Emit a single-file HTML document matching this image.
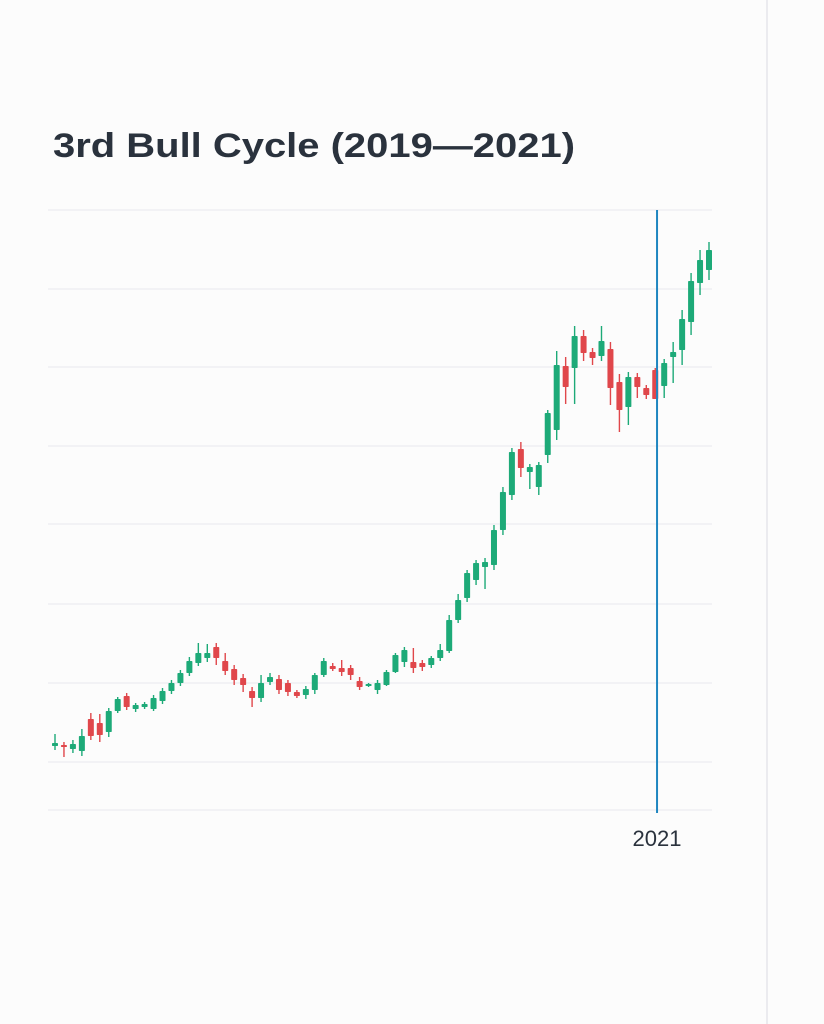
<!DOCTYPE html>
<html><head><meta charset="utf-8"><style>
html,body{margin:0;padding:0;background:#fcfcfc;}
svg{display:block;}
</style></head><body>
<svg width="824" height="1024" viewBox="0 0 824 1024">
<rect x="0" y="0" width="824" height="1024" fill="#fcfcfc"/>
<line x1="767" y1="0" x2="767" y2="1024" stroke="#ebebef" stroke-width="2"/>
<text x="53" y="157" font-family="Liberation Sans, sans-serif" font-weight="bold" font-size="34" fill="#2a323d" textLength="522" lengthAdjust="spacingAndGlyphs">3rd Bull Cycle (2019—2021)</text>
<g id="grid"></g>
<g id="candles"></g>
<g id="marker"></g>
</svg>
<script>
const opens  = [64,65,61,59,91,87,78,99,114,101,103,101,109,119,127,137,147,152,163,149,141,132,119,112,128,131,127,118,115,120,135,144,142,142,129,124,120,125,138,148,148,147,145,152,159,190,212,230,243,245,280,315,361,338,323,355,380,444,442,474,458,454,461,428,403,433,422,440,424,453,460,488,527,540];
const closes = [67,63,66,74,74,75,99,111,103,105,106,112,119,127,137,149,157,157,152,139,130,125,112,127,133,120,118,114,121,135,149,141,138,135,123,126,127,138,155,160,142,143,152,160,190,210,237,247,248,280,318,358,342,343,345,397,445,423,474,457,452,469,422,400,433,423,415,411,447,458,491,529,550,560];
const highs  = [76,68,70,81,97,96,102,113,117,107,108,115,122,130,140,153,167,166,167,157,145,136,123,135,137,135,130,120,124,137,152,147,150,145,133,127,130,140,157,163,162,150,154,166,195,216,240,250,252,285,323,362,368,346,348,400,459,453,484,480,462,484,468,436,438,437,425,442,451,468,500,537,560,568];
const lows   = [60,53,57,54,70,68,73,97,100,98,101,99,106,116,124,134,144,148,145,135,125,118,103,108,125,116,114,112,111,116,133,139,134,130,120,123,116,124,137,143,137,139,142,149,157,187,208,225,221,240,275,310,333,321,315,347,370,406,406,449,445,449,405,378,385,412,411,411,412,427,445,475,515,530];
const gridValues = [0,48,127,206,286,364,443,521,600];
const markerIndex = 67.2;
const markerLabel = "2021";

const ns = "http://www.w3.org/2000/svg";
const X0 = 55, X1 = 709, Y0 = 810, Y1 = 210, VMAX = 600;
const n = opens.length;
function xs(i){ return X0 + i * (X1 - X0) / (n - 1); }
function ys(v){ return Y0 - v * (Y0 - Y1) / VMAX; }
function mk(tag, attrs){ const e = document.createElementNS(ns, tag); for (const k in attrs) e.setAttribute(k, attrs[k]); return e; }

const grid = document.getElementById('grid');
gridValues.forEach(v => {
  const l = mk('line', {x1:48, x2:712, y1:ys(v), y2:ys(v), stroke:'#e8e8ee', 'stroke-width':1});
  
  
  grid.appendChild(l);
});

const cg = document.getElementById('candles');
for (let i = 0; i < n; i++) {
  const up = closes[i] >= opens[i];
  const col = up ? '#1daa78' : '#e0474b';
  const g = mk('g', {});
  
  
  const x = xs(i);
  g.appendChild(mk('line', {x1:x, x2:x, y1:ys(highs[i]), y2:ys(lows[i]), stroke:col, 'stroke-width':1.4}));
  const top = ys(Math.max(opens[i], closes[i])), bot = ys(Math.min(opens[i], closes[i]));
  g.appendChild(mk('rect', {x:x-3, y:top, width:6, height:Math.max(2, bot-top), fill:col, rx:0.8}));
  cg.appendChild(g);
}

const mg = document.getElementById('marker');
const mx = xs(markerIndex);
const ml = mk('line', {x1:mx, x2:mx, y1:210, y2:813, stroke:'#1f86c0', 'stroke-width':2});


mg.appendChild(ml);
const mt = mk('text', {x:mx, y:846, 'text-anchor':'middle', 'font-family':'Liberation Sans, sans-serif', 'font-size':22, fill:'#2a323d'});
mt.textContent = markerLabel;


mg.appendChild(mt);
</script>
</body></html>
